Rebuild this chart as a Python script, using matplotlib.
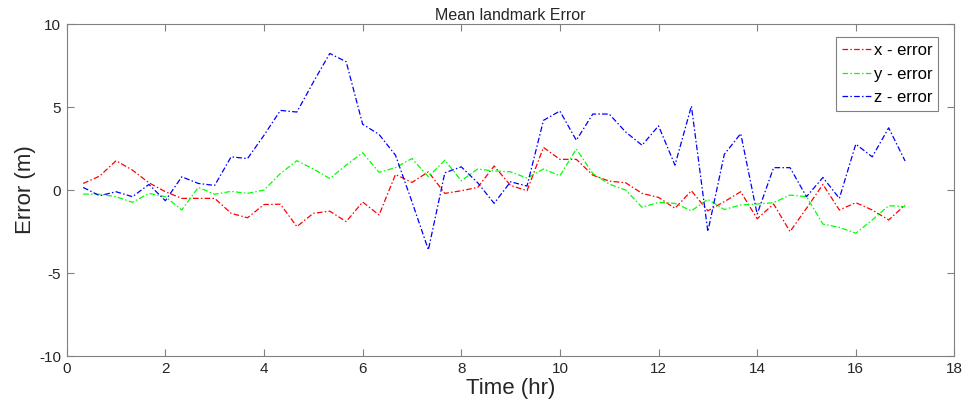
import numpy as np
import matplotlib
matplotlib.use("Agg")
import matplotlib.pyplot as plt

# Time steps (every 20 minutes)
time_hr = np.arange(1, 52) / 3.0

x_error = [0.4, 0.84, 1.77, 1.2, 0.44, -0.1, -0.5, -0.5, -0.5, -1.4,
           -1.67, -0.87, -0.85, -2.2, -1.4, -1.27, -1.9, -0.72, -1.5, 0.94,
           0.46, 1.1, -0.2, -0.04, 0.16, 1.45, 0.28, -0.04, 2.57, 1.85,
           1.85, 0.9, 0.54, 0.44, -0.2, -0.44, -1.1, -0.04, -1.25, -0.7,
           -0.1, -1.73, -0.84, -2.5, -1.1, 0.34, -1.2, -0.76, -1.2, -1.8,
           -0.9]

y_error = [-0.24, -0.25, -0.4, -0.74, -0.2, -0.4, -1.2, 0.16, -0.25, -0.08,
           -0.2, 0.0, 1.0, 1.77, 1.27, 0.7, 1.5, 2.25, 1.07, 1.35,
           1.9, 0.8, 1.8, 0.56, 1.27, 1.15, 1.1, 0.72, 1.27, 0.86,
           2.47, 1.0, 0.36, 0.0, -1.04, -0.74, -0.8, -1.25, -0.56, -1.17,
           -0.9, -0.84, -0.76, -0.3, -0.4, -2.05, -2.25, -2.6, -1.8, -0.94,
           -1.0]

z_error = [0.16, -0.34, -0.1, -0.4, 0.34, -0.64, 0.8, 0.4, 0.28, 2.0,
           1.9, 3.3, 4.8, 4.7, 6.5, 8.23, 7.73, 3.97, 3.35, 2.1,
           -0.7, -3.6, 1.04, 1.4, 0.44, -0.8, 0.5, 0.24, 4.2, 4.76,
           3.0, 4.58, 4.58, 3.5, 2.7, 3.87, 1.5, 5.06, -2.5, 2.15,
           3.4, -1.45, 1.35, 1.35, -0.4, 0.76, -0.5, 2.77, 2.0, 3.75,
           1.75]

labels = ["x - error", "y - error", "z - error"]
colors = ["#ff0000", "#00ff00", "#0000ff"]

plt.rcParams['font.family'] = ['Liberation Sans', 'DejaVu Sans']
plt.rcParams['axes.unicode_minus'] = False

fig = plt.figure(figsize=(9.67, 4.15), dpi=100)
ax = fig.add_axes([0.069, 0.142, 0.918, 0.800])

for series, lab, col in zip([x_error, y_error, z_error], labels, colors):
    ax.plot(time_hr, series, linestyle=(0, (4.5, 1.8, 1.2, 1.8)), color=col,
            linewidth=0.9, label=lab)

ax.set_xlim(0, 18)
ax.set_ylim(-10, 10)
ax.set_xticks(np.arange(0, 19, 2))
ax.set_yticks([-10, -5, 0, 5, 10])

# MATLAB-like box with inward ticks on all sides
for side in ax.spines.values():
    side.set_color('#808080')
    side.set_linewidth(0.8)
ax.tick_params(direction='in', top=True, right=True, length=5, width=0.8,
               color='#808080', labelsize=11, labelcolor='#262626', pad=4)

ax.set_title("Mean landmark Error", fontsize=11.5, color='#262626', pad=3)
ax.set_xlabel("Time (hr)", fontsize=16, color='#262626', labelpad=2)
ax.set_ylabel("Error (m)", fontsize=16, color='#262626', labelpad=2)

leg = ax.legend(loc='upper right', fontsize=12, handlelength=1.8, handletextpad=0.1,
                borderpad=0.35, labelspacing=0.5, fancybox=False, framealpha=1,
                edgecolor='#808080', bbox_to_anchor=(0.991, 0.985))
leg.get_frame().set_linewidth(0.8)

plt.savefig("out.png", dpi=100)
